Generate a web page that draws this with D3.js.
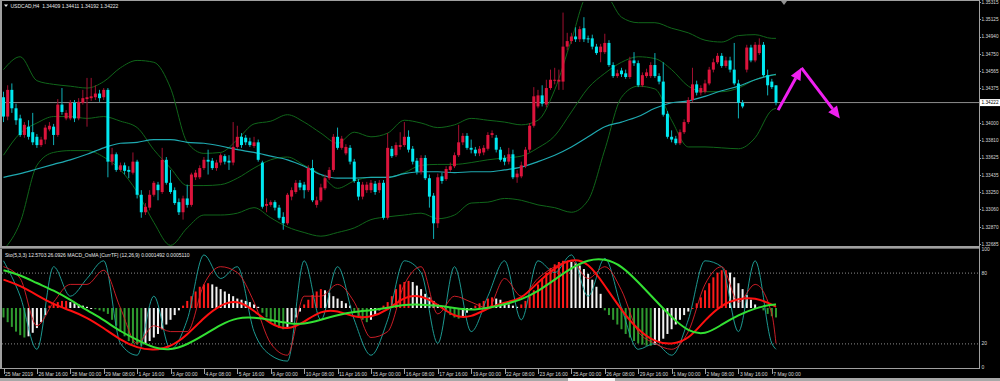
<!DOCTYPE html>
<html><head><meta charset="utf-8">
<script src="https://cdn.jsdelivr.net/npm/d3@7"></script>
<style>
html,body{margin:0;padding:0;background:#000;overflow:hidden}
svg{display:block}
text{font-family:"Liberation Sans",Arial,sans-serif}
</style></head>
<body><svg id="chart" width="1000" height="381"></svg>
<script>
// ---------- DATA ----------
const symbolTitle = "USDCAD,H4  1.34409 1.34411 1.34192 1.34222";
const subTitle = "Sto(5,3,3) 12.5703 26.0926 MACD_OsMA [CurrTF] (12,26,9) 0.0001492 0.0005110";
const currentPrice = 1.34222;

const open = [1.3428,1.3407,1.3436,1.3416,1.3405,1.3387,1.3396,1.3390,1.3385,1.3376,1.3382,1.3393,1.3396,1.3387,1.3420,1.3405,1.3405,1.3422,1.3405,1.3422,
1.3426,1.3427,1.3428,1.3432,1.3428,1.3436,1.3358,1.3366,1.3349,1.3354,1.3349,1.3346,1.3358,1.3322,1.3303,1.3308,1.3322,1.3333,1.3325,1.3360,
1.3335,1.3327,1.3314,1.3303,1.3318,1.3311,1.3341,1.3341,1.3351,1.3360,1.3359,1.3351,1.3357,1.3364,1.3359,1.3357,1.3374,1.3385,1.3384,1.3380,
1.3375,1.3379,1.3357,1.3310,1.3311,1.3314,1.3308,1.3298,1.3291,1.3320,1.3325,1.3335,1.3333,1.3327,1.3351,1.3311,1.3316,1.3329,1.3340,1.3349,
1.3385,1.3373,1.3367,1.3373,1.3358,1.3336,1.3320,1.3327,1.3327,1.3334,1.3327,1.3335,1.3297,1.3372,1.3365,1.3374,1.3376,1.3385,1.3372,1.3359,
1.3347,1.3362,1.3340,1.3321,1.3291,1.3342,1.3339,1.3349,1.3353,1.3365,1.3379,1.3386,1.3373,1.3371,1.3367,1.3368,1.3372,1.3387,1.3384,1.3371,
1.3362,1.3358,1.3366,1.3341,1.3342,1.3353,1.3371,1.3397,1.3418,1.3430,1.3420,1.3438,1.3446,1.3445,1.3445,1.3483,1.3489,1.3494,1.3491,1.3503,
1.3492,1.3492,1.3483,1.3477,1.3477,1.3487,1.3463,1.3451,1.3457,1.3454,1.3450,1.3468,1.3465,1.3441,1.3451,1.3451,1.3463,1.3451,1.3445,1.3410,
1.3385,1.3383,1.3378,1.3390,1.3401,1.3425,1.3442,1.3433,1.3434,1.3443,1.3458,1.3466,1.3473,1.3462,1.3468,1.3458,1.3443,1.3422,1.3458,1.3482,
1.3468,1.3476,1.3485,1.3452,1.3445,1.34409];
const high = [1.3434,1.3441,1.3443,1.3421,1.3409,1.3401,1.3403,1.3411,1.3388,1.3385,1.3398,1.3401,1.3399,1.3426,1.3438,1.3414,1.3425,1.3425,1.3427,1.3436,
1.3449,1.3449,1.3441,1.3436,1.3438,1.3438,1.3373,1.3368,1.3357,1.3357,1.3353,1.3368,1.3360,1.3327,1.3313,1.3327,1.3337,1.3336,1.3373,1.3363,
1.3349,1.3330,1.3318,1.3321,1.3333,1.3346,1.3349,1.3354,1.3363,1.3371,1.3362,1.3360,1.3367,1.3366,1.3365,1.3401,1.3397,1.3389,1.3387,1.3384,
1.3385,1.3382,1.3359,1.3318,1.3316,1.3316,1.3311,1.3303,1.3324,1.3330,1.3338,1.3338,1.3336,1.3354,1.3360,1.3320,1.3334,1.3344,1.3352,1.3388,
1.3395,1.3386,1.3377,1.3376,1.3361,1.3339,1.3336,1.3336,1.3338,1.3337,1.3338,1.3338,1.3389,1.3375,1.3379,1.3390,1.3401,1.3392,1.3375,1.3362,
1.3365,1.3365,1.3344,1.3324,1.3345,1.3346,1.3353,1.3357,1.3368,1.3398,1.3389,1.3389,1.3382,1.3374,1.3375,1.3376,1.3390,1.3392,1.3387,1.3374,
1.3365,1.3373,1.3371,1.3349,1.3358,1.3374,1.3400,1.3439,1.3436,1.3441,1.3447,1.3458,1.3460,1.3458,1.3520,1.3498,1.3498,1.3504,1.3505,1.3515,
1.3495,1.3496,1.3486,1.3486,1.3497,1.3490,1.3466,1.3458,1.3460,1.3458,1.3472,1.3477,1.3468,1.3455,1.3459,1.3466,1.3476,1.3454,1.3466,1.3413,
1.3392,1.3386,1.3393,1.3404,1.3428,1.3460,1.3446,1.3441,1.3447,1.3461,1.3470,1.3476,1.3476,1.3472,1.3472,1.3487,1.3447,1.3425,1.3485,1.3485,
1.3488,1.3492,1.3488,1.3458,1.3448,1.34411];
const low = [1.3401,1.3403,1.3411,1.3398,1.3385,1.3384,1.3382,1.3376,1.3373,1.3374,1.3377,1.3391,1.3376,1.3385,1.3409,1.3403,1.3403,1.3401,1.3403,1.3420,
1.3396,1.3424,1.3425,1.3423,1.3425,1.3341,1.3354,1.3347,1.3347,1.3344,1.3340,1.3344,1.3318,1.3297,1.3300,1.3305,1.3320,1.3316,1.3323,1.3333,
1.3323,1.3311,1.3300,1.3295,1.3308,1.3309,1.3338,1.3339,1.3349,1.3344,1.3349,1.3348,1.3354,1.3355,1.3349,1.3354,1.3372,1.3373,1.3376,1.3374,
1.3373,1.3358,1.3307,1.3303,1.3309,1.3305,1.3295,1.3284,1.3289,1.3316,1.3323,1.3327,1.3318,1.3325,1.3314,1.3308,1.3314,1.3327,1.3338,1.3347,
1.3371,1.3371,1.3365,1.3355,1.3335,1.3316,1.3317,1.3324,1.3324,1.3322,1.3324,1.3295,1.3295,1.3362,1.3363,1.3371,1.3374,1.3368,1.3355,1.3344,
1.3344,1.3338,1.3308,1.3274,1.3286,1.3334,1.3337,1.3347,1.3351,1.3363,1.3376,1.3371,1.3367,1.3364,1.3364,1.3365,1.3370,1.3384,1.3368,1.3358,
1.3354,1.3355,1.3339,1.3335,1.3340,1.3351,1.3368,1.3395,1.3416,1.3418,1.3417,1.3436,1.3442,1.3436,1.3436,1.3479,1.3486,1.3488,1.3488,1.3488,
1.3487,1.3480,1.3474,1.3466,1.3475,1.3461,1.3449,1.3449,1.3450,1.3448,1.3448,1.3462,1.3439,1.3439,1.3449,1.3449,1.3449,1.3442,1.3407,1.3383,
1.3379,1.3376,1.3376,1.3388,1.3399,1.3423,1.3430,1.3430,1.3432,1.3441,1.3455,1.3464,1.3460,1.3460,1.3455,1.3441,1.3405,1.3416,1.3455,1.3466,
1.3466,1.3474,1.3450,1.3430,1.3437,1.34192];
const close = [1.3407,1.3436,1.3416,1.3403,1.3387,1.3398,1.3385,1.3379,1.3376,1.3382,1.3395,1.3397,1.3387,1.3420,1.3412,1.3411,1.3422,1.3405,1.3423,1.3427,
1.3428,1.3429,1.3432,1.3427,1.3436,1.3358,1.3366,1.3349,1.3354,1.3348,1.3347,1.3358,1.3322,1.3303,1.3309,1.3322,1.3335,1.3327,1.3360,1.3335,
1.3325,1.3313,1.3303,1.3318,1.3311,1.3344,1.3346,1.3351,1.3360,1.3358,1.3351,1.3357,1.3365,1.3358,1.3357,1.3374,1.3385,1.3376,1.3379,1.3376,
1.3379,1.3360,1.3309,1.3312,1.3314,1.3308,1.3297,1.3291,1.3322,1.3327,1.3335,1.3330,1.3327,1.3351,1.3316,1.3316,1.3330,1.3340,1.3349,1.3385,
1.3373,1.3383,1.3374,1.3358,1.3337,1.3320,1.3333,1.3333,1.3335,1.3325,1.3335,1.3297,1.3373,1.3364,1.3376,1.3376,1.3385,1.3371,1.3358,1.3347,
1.3362,1.3340,1.3320,1.3291,1.3341,1.3337,1.3350,1.3353,1.3365,1.3379,1.3386,1.3373,1.3371,1.3367,1.3372,1.3373,1.3387,1.3389,1.3371,1.3360,
1.3358,1.3366,1.3341,1.3345,1.3354,1.3371,1.3397,1.3429,1.3430,1.3421,1.3438,1.3447,1.3447,1.3447,1.3483,1.3489,1.3494,1.3491,1.3502,1.3491,
1.3491,1.3483,1.3476,1.3483,1.3487,1.3463,1.3451,1.3454,1.3453,1.3450,1.3468,1.3465,1.3441,1.3452,1.3455,1.3463,1.3451,1.3445,1.3409,1.3385,
1.3382,1.3378,1.3390,1.3401,1.3425,1.3442,1.3433,1.3438,1.3443,1.3458,1.3466,1.3473,1.3462,1.3468,1.3458,1.3443,1.3422,1.3418,1.3482,1.3468,
1.3485,1.3485,1.3452,1.3441,1.3439,1.34222];

// indicator lines sampled every 4 bars (+ last bar)
const sampleBars = [0,4,8,12,16,20,24,28,32,36,40,44,48,52,56,60,64,68,72,76,80,84,88,92,96,100,104,108,112,116,120,124,128,132,136,140,144,148,152,156,160,164,168,172,176,180,184,185];
const bbUpper = [1.3458,1.3472,1.3446,1.3442,1.3440,1.3438,1.3445,1.3460,1.3468,1.3466,1.3438,1.3379,1.3367,1.3368,1.3382,1.3399,1.3402,1.3409,1.3401,1.3389,1.3378,1.3390,1.3385,1.3389,1.3403,1.3400,1.3395,1.3398,1.3405,1.3403,1.3401,1.3398,1.3403,1.3436,1.3490,1.3539,1.3539,1.3515,1.3509,1.3509,1.3503,1.3498,1.3490,1.3488,1.3495,1.3496,1.3492,1.3492];
const bbMiddle = [1.3365,1.3389,1.3400,1.3407,1.3407,1.3405,1.3407,1.3402,1.3395,1.3371,1.3351,1.3332,1.3332,1.3333,1.3340,1.3351,1.3360,1.3363,1.3354,1.3344,1.3329,1.3337,1.3341,1.3341,1.3346,1.3354,1.3355,1.3355,1.3357,1.3360,1.3362,1.3364,1.3373,1.3386,1.3412,1.3438,1.3454,1.3466,1.3472,1.3470,1.3458,1.3440,1.3434,1.3434,1.3438,1.3447,1.3452,1.3452];
const bbLower = [1.3262,1.3292,1.3354,1.3368,1.3370,1.3370,1.3363,1.3349,1.3325,1.3292,1.3267,1.3286,1.3300,1.3300,1.3302,1.3308,1.3297,1.3287,1.3281,1.3277,1.3281,1.3286,1.3295,1.3298,1.3300,1.3302,1.3296,1.3300,1.3313,1.3314,1.3318,1.3316,1.3311,1.3308,1.3303,1.3316,1.3371,1.3428,1.3440,1.3437,1.3403,1.3374,1.3374,1.3373,1.3372,1.3384,1.3414,1.3416];
const maLine = [1.3341,1.3345,1.3350,1.3355,1.3360,1.3366,1.3373,1.3378,1.3379,1.3382,1.3382,1.3379,1.3378,1.3375,1.3371,1.3368,1.3364,1.3360,1.3353,1.3344,1.3340,1.3340,1.3341,1.3341,1.3345,1.3347,1.3347,1.3346,1.3347,1.3347,1.3349,1.3352,1.3358,1.3365,1.3374,1.3385,1.3396,1.3401,1.3407,1.3416,1.3422,1.3424,1.3429,1.3435,1.3440,1.3447,1.3452,1.3453];

// lower window (0..100 scale)
const osmaMain = [74,69,61,53,48,42,33,23,16,14,17,27,42,53,57,48,36,31,38,48,48,42,42,48,60,61,53,42,42,50,55,57,72,84,92,89,69,48,31,21,19,23,40,53,58,59,53,51];
const osmaSignal = [82,78,71,65,57,48,40,30,23,16,14,19,27,36,42,42,40,37,36,40,44,47,48,50,53,53,52,50,48,50,53,57,64,74,84,91,92,86,72,57,42,30,27,36,44,50,53,53];
const stochK = [90,60,15,85,60,75,90,20,10,60,15,40,95,75,85,30,10,5,90,40,85,40,10,40,90,80,20,85,30,60,90,40,90,80,95,60,92,50,15,20,10,40,90,85,30,90,20,15];
const stochD = [85,75,35,55,70,70,82,50,20,35,30,30,70,85,80,55,20,10,60,60,70,55,25,30,70,85,45,60,55,50,75,60,75,85,90,75,85,65,30,20,15,30,70,85,55,70,45,20];
const osmaHist = [42,38,34,30,27,25,26,29,33,38,44,
52,54,55,56,56,55,54,53,52,51,50,49,48,47,
45,40,35,30,26,22,20,19,18,20,22,25,28,32,36,40,44,48,
52,56,60,64,68,70,71,70,68,66,64,62,60,58,57,56,55,53,51,
46,42,38,35,33,32,34,38,42,47,
53,57,61,64,66,65,63,60,58,56,54,52,
47,43,40,38,40,44,48,
52,55,60,66,70,72,73,72,69,66,62,59,56,53,51,
47,44,42,41,43,46,49,
52,54,56,58,59,58,57,55,53,52,51,
53,56,60,65,70,75,80,84,87,89,90,90,89,88,86,83,79,74,68,62,
48,44,40,36,32,28,25,22,20,19,18,18,19,21,24,28,32,36,40,44,47,50,
54,59,65,71,76,80,82,82,80,76,71,66,61,57,53,51,
48,45,43,42];

const priceTicks = [1.35315,1.35125,1.34940,1.34750,1.34565,1.34375,1.34000,1.33810,1.33625,1.33435,1.33250,1.33060,1.32870,1.32685];
const lowerTicks = [100,80,20,0];
const levelLines = [80,20];
const timeLabels = ["25 Mar 2019","26 Mar 16:00","28 Mar 00:00","29 Mar 08:00","1 Apr 16:00","3 Apr 00:00","4 Apr 08:00","5 Apr 16:00","9 Apr 00:00","10 Apr 08:00","11 Apr 16:00","15 Apr 00:00","16 Apr 08:00","17 Apr 16:00","19 Apr 00:00","22 Apr 08:00","23 Apr 16:00","25 Apr 00:00","26 Apr 08:00","29 Apr 16:00","1 May 00:00","2 May 08:00","3 May 16:00","7 May 00:00"];
const timeLabelBars = [0,8,16,24,32,40,48,56,64,72,80,88,96,104,112,120,128,136,144,152,160,168,176,184];
// hand-drawn arrow annotation (bar, price)
const arrowBars = [185.5, 191.1, 200.3];
const arrowPrices = [1.3414, 1.3460, 1.3405];

// ---------- LAYOUT ----------
const W = 1000, H = 381;
const plotR = 979;
const mainTop = 1, mainBot = 246;
const lowTop = 249, lowBot = 368;
const svg = d3.select("#chart");
svg.append("rect").attr("width",W).attr("height",H).attr("fill","#000");

const x = d3.scaleLinear().domain([0,185]).range([3.5,776]);
const y = d3.scaleLinear().domain([1.32685,1.35315]).range([244,2]);
const yl = d3.scaleLinear().domain([0,100]).range([367,249]);

const defs = svg.append("defs");
defs.append("clipPath").attr("id","cm").append("rect").attr("x",2).attr("y",mainTop+1).attr("width",plotR-2).attr("height",mainBot-mainTop-1);
defs.append("clipPath").attr("id","cl").append("rect").attr("x",2).attr("y",lowTop+1).attr("width",plotR-2).attr("height",lowBot-lowTop-1);

const gm = svg.append("g").attr("clip-path","url(#cm)");
const gl = svg.append("g").attr("clip-path","url(#cl)");

// current price line
gm.append("line").attr("x1",0).attr("x2",plotR).attr("y1",y(currentPrice)).attr("y2",y(currentPrice))
  .attr("stroke","#8c8c8c").attr("stroke-width",1);

// Bollinger + MA
const lineGen = arr => d3.line().x((d,i)=>x(sampleBars[i])).y(d=>y(d)).curve(d3.curveMonotoneX)(arr);
[bbUpper,bbMiddle,bbLower].forEach(a=>{
  gm.append("path").attr("d",lineGen(a)).attr("fill","none").attr("stroke","#10661a").attr("stroke-width",1);
});
gm.append("path").attr("d",lineGen(maLine)).attr("fill","none").attr("stroke","#1fa9b0").attr("stroke-width",1.2);

// candles
const bullC = "#dc143c", bearC = "#00e8f0";
const idx = d3.range(close.length);
gm.selectAll("line.wick").data(idx).join("line").attr("class","wick")
  .attr("x1",i=>x(i)).attr("x2",i=>x(i)).attr("y1",i=>y(high[i])).attr("y2",i=>y(low[i]))
  .attr("stroke",i=>close[i]>=open[i]?"#a01030":"#0fb0b8").attr("stroke-width",1);
gm.selectAll("rect.body").data(idx).join("rect").attr("class","body")
  .attr("x",i=>x(i)-1.5).attr("width",3)
  .attr("y",i=>y(Math.max(open[i],close[i])))
  .attr("height",i=>Math.max(1,Math.abs(y(open[i])-y(close[i]))))
  .attr("fill",i=>close[i]>=open[i]?bullC:bearC);

// arrow annotation
const ap = arrowBars.map((b,i)=>[x(b),y(arrowPrices[i])]);
const magenta = "#f020f0";
function arrowSeg(p0,p1){
  const dx=p1[0]-p0[0], dy=p1[1]-p0[1], L=Math.hypot(dx,dy), ux=dx/L, uy=dy/L;
  const hl=12, hw=5.5;
  const bx=p1[0]-ux*hl, by=p1[1]-uy*hl;
  gm.append("line").attr("x1",p0[0]).attr("y1",p0[1]).attr("x2",bx).attr("y2",by)
    .attr("stroke",magenta).attr("stroke-width",3);
  gm.append("polygon").attr("points",[[p1[0],p1[1]],[bx-uy*hw,by+ux*hw],[bx+uy*hw,by-ux*hw]].map(p=>p.join(",")).join(" "))
    .attr("fill",magenta);
}
arrowSeg(ap[0],ap[1]);
arrowSeg(ap[1],ap[2]);

// ---------- lower window ----------
levelLines.forEach(v=>{
  gl.append("line").attr("x1",2).attr("x2",plotR).attr("y1",yl(v)+0.5).attr("y2",yl(v)+0.5)
    .attr("stroke","#8a8a8a").attr("stroke-dasharray","1,2").attr("stroke-width",1);
});
const histBase = 50;
gl.selectAll("rect.h").data(idx).join("rect").attr("class","h")
  .attr("x",i=>x(i)-1).attr("width",2)
  .attr("y",i=>Math.min(yl(osmaHist[i]),yl(histBase)))
  .attr("height",i=>Math.max(1,Math.abs(yl(osmaHist[i])-yl(histBase))))
  .attr("fill",i=>{
    const v=osmaHist[i], p=i>0?osmaHist[i-1]:v;
    if(v>=histBase) return v>=p?"#ff1a1a":"#f2f2f2";
    return v<=p?"#2f9a2f":"#f2f2f2";
  });
const lowGen = (arr,curve) => d3.line().x((d,i)=>x(sampleBars[i])).y(d=>yl(d)).curve(curve)(arr);
gl.append("path").attr("d",lowGen(stochK,d3.curveMonotoneX)).attr("fill","none").attr("stroke","#1fa9a0").attr("stroke-width",0.9);
gl.append("path").attr("d",lowGen(stochD,d3.curveMonotoneX)).attr("fill","none").attr("stroke","#e0202a").attr("stroke-width",0.9);
gl.append("path").attr("d",lowGen(osmaMain,d3.curveBasis)).attr("fill","none").attr("stroke","#ff1010").attr("stroke-width",2);
gl.append("path").attr("d",lowGen(osmaSignal,d3.curveBasis)).attr("fill","none").attr("stroke","#33e033").attr("stroke-width",2);

// ---------- frames ----------
const frame = "#a0a0a0";
svg.append("line").attr("x1",0).attr("x2",plotR).attr("y1",0.5).attr("y2",0.5).attr("stroke",frame);
svg.append("line").attr("x1",1).attr("x2",1).attr("y1",0).attr("y2",lowBot).attr("stroke",frame).attr("stroke-width",2);
svg.append("line").attr("x1",plotR+0.5).attr("x2",plotR+0.5).attr("y1",0).attr("y2",lowBot).attr("stroke",frame);
svg.append("rect").attr("x",0).attr("y",mainBot).attr("width",plotR+1).attr("height",2).attr("fill",frame);
svg.append("line").attr("x1",0).attr("x2",plotR).attr("y1",lowTop-0.5).attr("y2",lowTop-0.5).attr("stroke","#6a6a6a");
svg.append("line").attr("x1",0).attr("x2",plotR+1).attr("y1",lowBot+0.5).attr("y2",lowBot+0.5).attr("stroke",frame);
// chart-shift marker
svg.append("polygon").attr("points",`${x(185)+5},1 ${x(185)+11},1 ${x(185)+8},5`).attr("fill","#909090");

// ---------- axes / text ----------
const fs = 5, txtC = "#d8d8d8", lblX = plotR + 2.5, lblW = 17;
const pa = svg.append("g");
pa.selectAll("line").data(priceTicks).join("line")
  .attr("x1",plotR).attr("x2",plotR+2).attr("y1",d=>Math.round(y(d))+0.5).attr("y2",d=>Math.round(y(d))+0.5).attr("stroke",frame);
pa.selectAll("text").data(priceTicks).join("text")
  .attr("x",lblX).attr("y",d=>y(d)+1.8).attr("font-size",fs).attr("fill",txtC)
  .attr("textLength",lblW).attr("lengthAdjust","spacingAndGlyphs").text(d=>d.toFixed(5));
// current price box
svg.append("rect").attr("x",plotR+1).attr("y",y(currentPrice)-3.5).attr("width",20).attr("height",7).attr("fill","#fff");
svg.append("text").attr("x",lblX).attr("y",y(currentPrice)+1.8).attr("font-size",fs).attr("fill","#000")
  .attr("textLength",lblW).attr("lengthAdjust","spacingAndGlyphs").text(currentPrice.toFixed(5));

svg.selectAll("text.lt").data(lowerTicks).join("text").attr("class","lt")
  .attr("x",lblX).attr("y",d=>yl(d)+2).attr("font-size",fs).attr("fill",txtC).text(d=>d);

svg.selectAll("line.tt").data(timeLabelBars).join("line").attr("class","tt")
  .attr("x1",d=>Math.round(x(d))+0.5).attr("x2",d=>Math.round(x(d))+0.5).attr("y1",lowBot+1).attr("y2",lowBot+6).attr("stroke",frame);
svg.selectAll("text.tl").data(timeLabels).join("text").attr("class","tl")
  .attr("x",(d,i)=>x(timeLabelBars[i])+1.5).attr("y",lowBot+7.5).attr("font-size",fs).attr("fill",txtC).text(d=>d);

// titles
svg.append("polygon").attr("points","4,4.5 8,4.5 6,7").attr("fill","#e8e8e8");
svg.append("text").attr("x",10.5).attr("y",7.5).attr("font-size",fs).attr("fill","#e8e8e8").attr("xml:space","preserve").text(symbolTitle);
svg.append("text").attr("x",5).attr("y",lowTop+8).attr("font-size",fs).attr("fill","#e8e8e8").text(subTitle);

// bottom tab strip
svg.append("rect").attr("x",0).attr("y",378).attr("width",W).attr("height",3).attr("fill","#a8a8a8");
svg.append("rect").attr("x",568).attr("y",378).attr("width",47).attr("height",3).attr("fill","#f4f4f4");
</script></body></html>
